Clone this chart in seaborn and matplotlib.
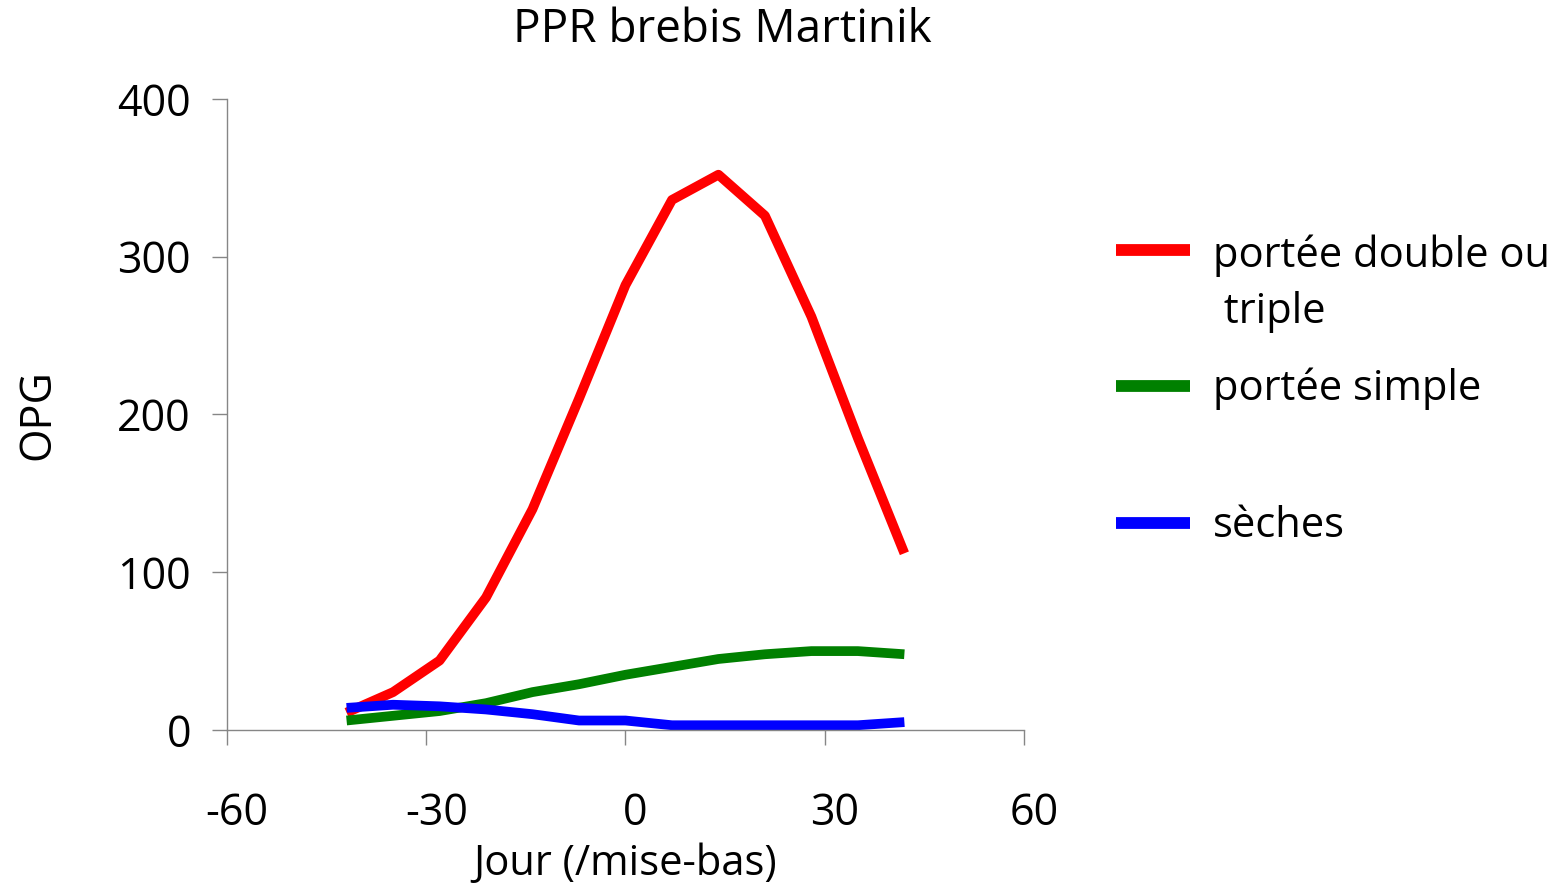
import numpy as np
import pandas as pd
import matplotlib
matplotlib.use("Agg")
import matplotlib.pyplot as plt
import matplotlib.transforms as mtransforms
from matplotlib.lines import Line2D
import seaborn as sns

# valeurs (OPG moyen par semaine autour de la mise-bas)
jours = [-42, -35, -28, -21, -14, -7, 0, 7, 14, 21, 28, 35, 42]
double_triple = [11, 24, 44, 84, 140, 210, 282, 336, 352, 326, 262, 185, 112]
simple = [6, 9, 12, 17, 24, 29, 35, 40, 45, 48, 50, 50, 48]
seches = [14, 16, 15, 13, 10, 6, 6, 3, 3, 3, 3, 3, 5]

groupes = ["portée double ou\n triple", "portée simple", "sèches"]
couleurs = ["#ff0000", "#008000", "#0000ff"]
x_ticks = [-60, -30, 0, 30, 60]
y_ticks = [0, 100, 200, 300, 400]

df = pd.DataFrame({
    "Jour": jours * 3,
    "OPG": double_triple + simple + seches,
    "Groupe": [groupes[0]] * len(jours) + [groupes[1]] * len(jours) + [groupes[2]] * len(jours),
})

sns.set_style("white")
plt.rcParams["font.family"] = ["Open Sans", "DejaVu Sans"]
plt.rcParams["axes.unicode_minus"] = False
plt.rcParams["text.color"] = "black"
plt.rcParams["axes.labelcolor"] = "black"

fig = plt.figure(figsize=(15.68, 8.9), dpi=100)
ax = fig.add_axes([0.1448, 0.1798, 0.653 - 0.1448, 0.8888 - 0.1798])

sns.lineplot(data=df, x="Jour", y="OPG", hue="Groupe", palette=couleurs,
             linewidth=7, legend=False, ax=ax)
for ln in ax.get_lines():
    ln.set_solid_capstyle("butt")
    ln.set_solid_joinstyle("round")

ax.set_xlim(-60, 60)
ax.set_ylim(0, 400)
ax.set_xticks(x_ticks)
ax.set_yticks(y_ticks)
ax.tick_params(axis="x", direction="out", length=11, width=1, color="#868686",
               pad=33, labelsize=31, labelcolor="black")
ax.tick_params(axis="y", direction="out", length=11, width=1, color="#868686",
               pad=15, labelsize=31, labelcolor="black")
ax.tick_params(bottom=True, left=True)
for s in ["top", "right"]:
    ax.spines[s].set_visible(False)
for s in ["left", "bottom"]:
    ax.spines[s].set_color("#868686")
    ax.spines[s].set_linewidth(1)

# les étiquettes de x sont un peu décalées vers la droite dans l'original
offset = mtransforms.ScaledTranslation(10 / 100, 0, fig.dpi_scale_trans)
for lab in ax.get_xticklabels():
    lab.set_transform(lab.get_transform() + offset)

ax.set_xlabel("Jour (/mise-bas)", fontsize=30, labelpad=5)
ax.set_ylabel("OPG", fontsize=31, labelpad=41)

fig.text(0.4605, 0.966, "PPR brebis Martinik", ha="center", va="center", fontsize=33)

# légende dessinée à la main pour coller à la mise en page d'origine
leg_y = [250, 386, 523]
txt_base = [323, 400, 537]  # ligne de base de la dernière ligne du texte
for c, g, ly, tb in zip(couleurs, groupes, leg_y, txt_base):
    fig.add_artist(Line2D([1116 / 1568, 1190 / 1568], [1 - ly / 890, 1 - ly / 890],
                          color=c, linewidth=8.5, solid_capstyle="butt",
                          transform=fig.transFigure))
    fig.text(1213 / 1568, 1 - tb / 890, g, ha="left", va="baseline",
             fontsize=30, linespacing=1.45)

fig.savefig("out.png", dpi=100)
